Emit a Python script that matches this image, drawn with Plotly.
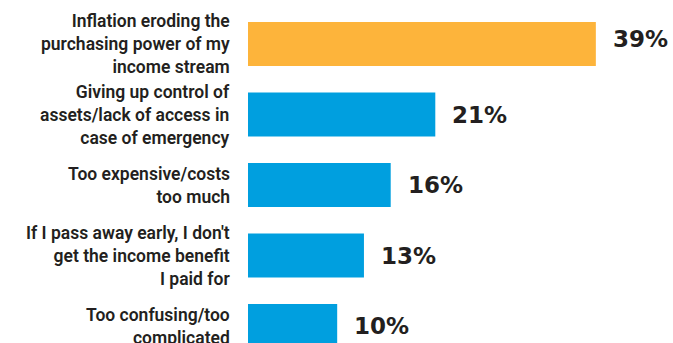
import plotly.graph_objects as go

# Survey responses: concerns about income annuities
categories = [
    "Inflation eroding the<br>purchasing power of my<br>income stream",
    "Giving up control of<br>assets/lack of access in<br>case of emergency",
    "Too expensive/costs<br>too much",
    "If I pass away early, I don't<br>get the income benefit<br>I paid for",
    "Too confusing/too<br>complicated",
]
shares = [39, 21, 16, 13, 10]
value_labels = ["39%", "21%", "16%", "13%", "10%"]

ORANGE = "#FDB43B"
BLUE = "#009FDF"
TEXT = "#231F20"

top = max(shares)
colors = [ORANGE if v == top else BLUE for v in shares]

fig = go.Figure(
    go.Bar(
        x=shares,
        y=categories,
        orientation="h",
        marker=dict(color=colors, line=dict(width=0)),
        hoverinfo="skip",
    )
)

annotations = []
for cat, val, lab in zip(categories, shares, value_labels):
    # category label to the left of the plotting area
    annotations.append(dict(
        x=0, xref="paper", y=cat, yref="y",
        text=cat, showarrow=False,
        xanchor="right", yanchor="middle", align="right", xshift=-16,
        font=dict(family="Roboto", size=17.5, color=TEXT, weight=600),
    ))
    # value label after the bar end
    annotations.append(dict(
        x=val, xref="x", y=cat, yref="y",
        text=lab, showarrow=False,
        xanchor="left", yanchor="middle", xshift=15,
        yshift=5 if val == top else 0,
        font=dict(family="DejaVu Sans", size=23, color=TEXT, weight="bold"),
    ))

fig.update_layout(
    width=673, height=343,
    margin=dict(l=248, r=0, t=0, b=0),
    paper_bgcolor="white", plot_bgcolor="white",
    bargap=0.376,
    showlegend=False,
    annotations=annotations,
    xaxis=dict(range=[0, 47.65], visible=False, fixedrange=True),
    yaxis=dict(range=[4.241, -0.624], visible=False, fixedrange=True),
)

fig.write_html("out.html")
